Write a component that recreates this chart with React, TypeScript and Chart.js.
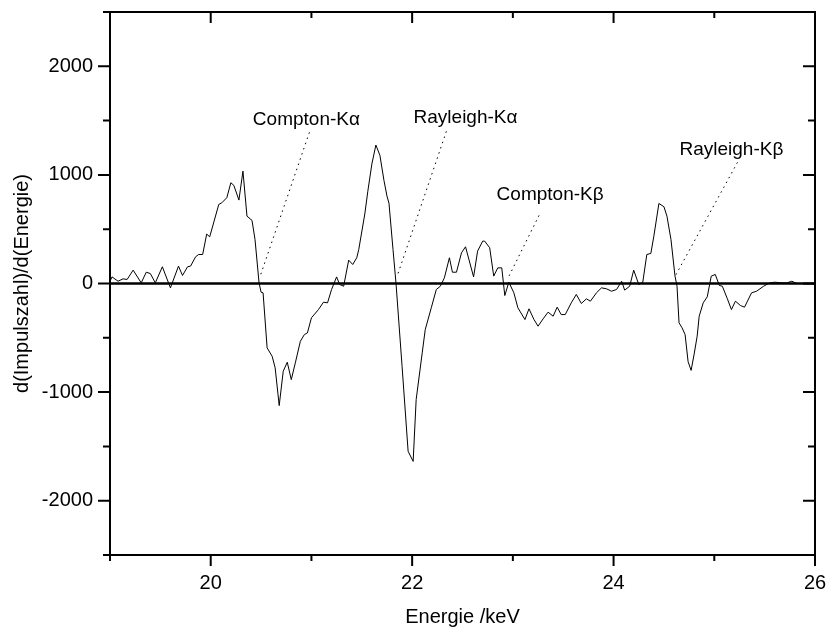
import React, { useEffect, useRef } from 'react';
import { Chart, registerables } from 'chart.js';

Chart.register(...registerables);

// Energy axis values (keV) of the measured derivative spectrum
const energies = [
  19.00, 19.02, 19.08, 19.13, 19.17, 19.23, 19.31, 19.36, 19.40, 19.45,
  19.52, 19.60, 19.68, 19.72, 19.77, 19.80, 19.85, 19.88, 19.92, 19.96,
  19.99, 20.08, 20.11, 20.16, 20.20, 20.23, 20.28, 20.32, 20.36, 20.41,
  20.44, 20.48, 20.50, 20.52, 20.56, 20.61, 20.64, 20.68, 20.72, 20.76,
  20.80, 20.84, 20.89, 20.93, 20.96, 21.00, 21.07, 21.12, 21.16, 21.20,
  21.25, 21.28, 21.32, 21.37, 21.41, 21.45, 21.47, 21.53, 21.56, 21.60,
  21.64, 21.68, 21.72, 21.75, 21.77, 21.81, 21.84, 21.90, 21.96, 22.01,
  22.04, 22.10, 22.13, 22.19, 22.24, 22.28, 22.32, 22.37, 22.40, 22.44,
  22.49, 22.53, 22.61, 22.65, 22.70, 22.72, 22.77, 22.81, 22.85, 22.89,
  22.92, 22.96, 23.01, 23.05, 23.12, 23.16, 23.21, 23.25, 23.30, 23.35,
  23.40, 23.44, 23.48, 23.52, 23.58, 23.63, 23.68, 23.73, 23.77, 23.83,
  23.88, 23.93, 23.98, 24.03, 24.08, 24.11, 24.16, 24.20, 24.25, 24.29,
  24.33, 24.37, 24.40, 24.45, 24.50, 24.53, 24.57, 24.61, 24.63, 24.65,
  24.68, 24.71, 24.74, 24.77, 24.80, 24.83, 24.85, 24.89, 24.93, 24.97,
  25.01, 25.05, 25.08, 25.13, 25.17, 25.21, 25.26, 25.30, 25.37, 25.42,
  25.49, 25.55, 25.60, 25.67, 25.72, 25.77, 25.82, 25.87, 25.93, 26.00,
];

// d(Impulszahl)/d(Energie)
const derivative = [
  20, 61, 21, 43, 37, 123, 6, 104, 92, 6,
  154, -40, 160, 74, 154, 160, 246, 267, 267, 455,
  430, 728, 743, 790, 928, 903, 768, 1035, 620, 581,
  405, 6, -80, -86, -593, -670, -777, -1124, -808, -725,
  -885, -731, -532, -470, -455, -316, -240, -172, -178, -55,
  61, -9, -25, 215, 175, 237, 313, 640, 850, 1100,
  1275, 1180, 950, 805, 740, 313, 0, -762, -1545, -1638,
  -1069, -639, -424, -224, -55, -25, 52, 237, 104, 104,
  283, 338, 61, 298, 390, 390, 329, 68, 144, 144,
  -111, 12, -86, -224, -332, -233, -332, -393, -326, -264,
  -301, -218, -286, -286, -178, -101, -184, -141, -163, -86,
  -40, -49, -71, -55, 21, -61, -25, 123, -9, 12,
  267, 277, 436, 737, 707, 620, 405, 68, -25, -362,
  -408, -470, -720, -800, -650, -485, -301, -178, -123, 68,
  83, -18, -25, -141, -240, -163, -203, -218, -86, -71,
  -25, 6, 12, 6, 6, 21, 0, 0, -3, 0,
];

// Peak annotations
const peakLabels = ['Compton-Kα', 'Rayleigh-Kα', 'Compton-Kβ', 'Rayleigh-Kβ'];
const labelX = [20.95, 22.53, 23.37, 25.17];
const labelY = [1512, 1530, 820, 1235];
const leaderStartX = [20.98, 22.34, 23.26, 25.23];
const leaderStartY = [1392, 1401, 627, 1115];
const leaderEndX = [20.49, 21.85, 22.96, 24.61];
const leaderEndY = [65, 65, 65, 65];

// Axis ranges and tick labels
const xMin = 19;
const xMax = 26;
const xStep = 1;
const xTickLabels = ['20', '22', '24', '26'];
const yMin = -2500;
const yMax = 2500;
const yStep = 500;
const yTickLabels = ['-2000', '-1000', '0', '1000', '2000'];

const FONT = "'Liberation Sans', Arial, Helvetica, sans-serif";

const framePlugin = {
  id: 'frameTicks',
  afterDraw(chart: any) {
    const { ctx, chartArea } = chart;
    const { left, right, top, bottom } = chartArea;
    const xs = chart.scales.x;
    const ys = chart.scales.y;
    ctx.save();
    ctx.strokeStyle = '#000';
    ctx.lineCap = 'butt';

    // zero line
    const y0 = ys.getPixelForValue(0);
    ctx.lineWidth = 2.5;
    ctx.beginPath();
    ctx.moveTo(left, y0);
    ctx.lineTo(right, y0);
    ctx.stroke();

    ctx.lineWidth = 2;
    // x ticks: bottom outward, top inward
    xs.ticks.forEach((t: any) => {
      const label = String(t.value);
      const len = xTickLabels.includes(label) ? 11 : 6;
      const px = xs.getPixelForValue(t.value);
      ctx.beginPath();
      ctx.moveTo(px, bottom);
      ctx.lineTo(px, bottom + len);
      ctx.moveTo(px, top);
      ctx.lineTo(px, top + len);
      ctx.stroke();
    });
    // y ticks: left outward, right inward
    ys.ticks.forEach((t: any) => {
      const label = String(t.value);
      const len = yTickLabels.includes(label) ? 12 : 7;
      const py = ys.getPixelForValue(t.value);
      ctx.beginPath();
      ctx.moveTo(left - len, py);
      ctx.lineTo(left, py);
      ctx.moveTo(right, py);
      ctx.lineTo(right - len, py);
      ctx.stroke();
    });

    // frame
    ctx.strokeRect(left, top, right - left, bottom - top);

    // peak labels
    ctx.fillStyle = '#000';
    ctx.font = `19px ${FONT}`;
    ctx.textAlign = 'center';
    ctx.textBaseline = 'middle';
    peakLabels.forEach((txt, i) => {
      ctx.fillText(txt, xs.getPixelForValue(labelX[i]), ys.getPixelForValue(labelY[i]));
    });
    ctx.restore();
  },
};

export default function App() {
  const canvasRef = useRef<HTMLCanvasElement | null>(null);

  useEffect(() => {
    if (!canvasRef.current) return;
    const spectrum = energies.map((e, i) => ({ x: e, y: derivative[i] }));
    const leaders = peakLabels.map((_, i) => ({
      data: [
        { x: leaderStartX[i], y: leaderStartY[i] },
        { x: leaderEndX[i], y: leaderEndY[i] },
      ],
      borderColor: '#000',
      borderWidth: 1,
      borderDash: [1.5, 4],
      pointRadius: 0,
      fill: false,
    }));

    const chart = new Chart(canvasRef.current, {
      type: 'line',
      data: {
        datasets: [
          {
            data: spectrum,
            borderColor: '#000',
            borderWidth: 1,
            pointRadius: 0,
            tension: 0,
            fill: false,
          },
          ...leaders,
        ],
      },
      options: {
        animation: false,
        responsive: false,
        events: [],
        layout: { padding: { top: 12, right: 14, left: 0, bottom: 0 } },
        plugins: {
          legend: { display: false },
          tooltip: { enabled: false },
          title: { display: false },
        },
        scales: {
          x: {
            type: 'linear',
            min: xMin,
            max: xMax,
            grid: { display: false },
            border: { display: false },
            afterFit: (s: any) => {
              s.height = 82;
              s.paddingLeft = 0;
              s.paddingRight = 0;
            },
            ticks: {
              stepSize: xStep,
              autoSkip: false,
              maxRotation: 0,
              padding: 8,
              color: '#000',
              font: { family: FONT, size: 20 },
              callback: (v: any) => {
                const s = String(v);
                return xTickLabels.includes(s) ? s : '';
              },
            },
            title: {
              display: true,
              text: 'Energie /keV',
              color: '#000',
              font: { family: FONT, size: 20 },
              padding: { top: 0, bottom: 8 },
            },
          },
          y: {
            type: 'linear',
            min: yMin,
            max: yMax,
            grid: { display: false },
            border: { display: false },
            afterFit: (s: any) => {
              s.width = 110;
              s.paddingTop = 0;
              s.paddingBottom = 0;
            },
            ticks: {
              stepSize: yStep,
              autoSkip: false,
              padding: 9,
              color: '#000',
              font: { family: FONT, size: 20 },
              callback: (v: any) => {
                const s = String(v);
                return yTickLabels.includes(s) ? s : '';
              },
            },
            title: {
              display: true,
              text: 'd(Impulszahl)/d(Energie)',
              color: '#000',
              font: { family: FONT, size: 20 },
              padding: { top: 10, bottom: 0 },
            },
          },
        },
      },
      plugins: [framePlugin],
    });
    return () => chart.destroy();
  }, []);

  return (
    <div style={{ position: 'absolute', left: 0, top: 0, width: 829, height: 637, background: '#fff' }}>
      <canvas ref={canvasRef} width={829} height={637} style={{ display: 'block' }} />
    </div>
  );
}
